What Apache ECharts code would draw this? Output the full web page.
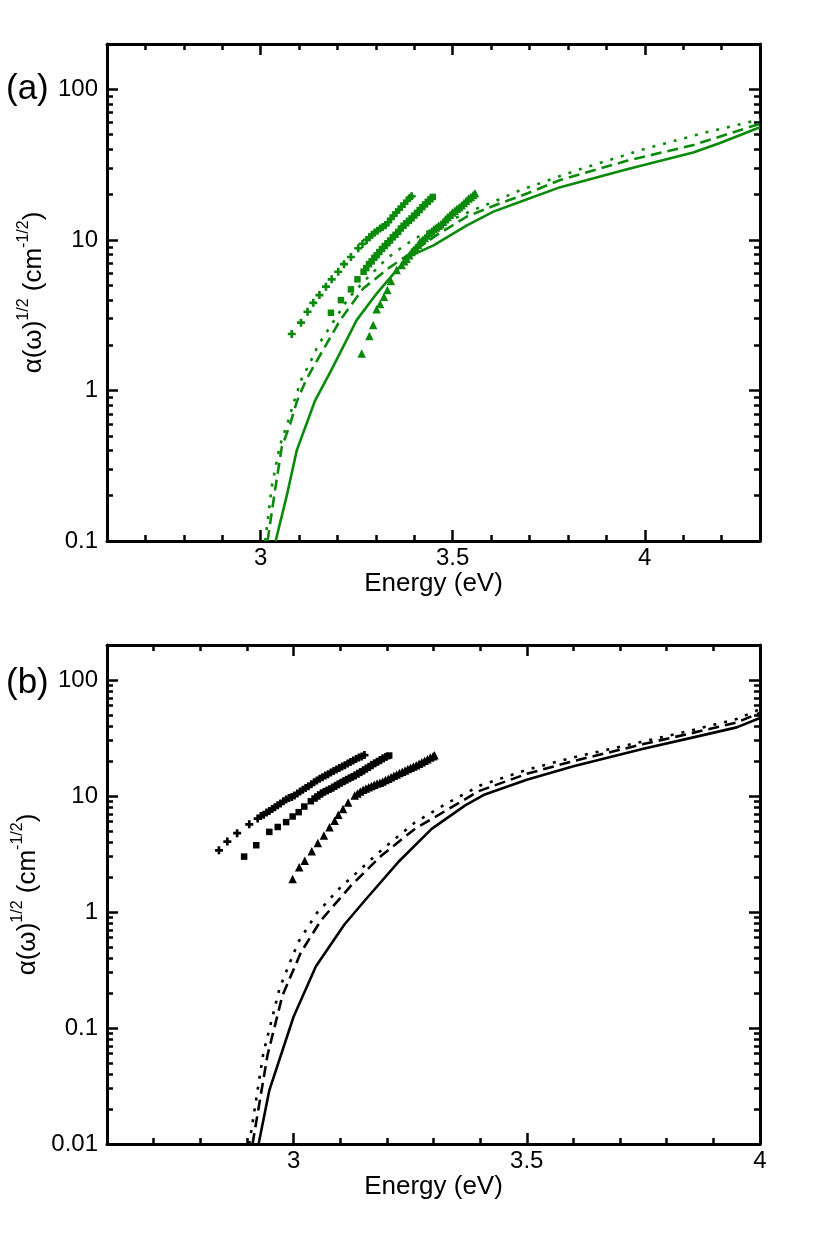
<!DOCTYPE html>
<html>
<head>
<meta charset="utf-8">
<script src="https://cdn.jsdelivr.net/npm/echarts@6.0.0/dist/echarts.min.js"></script>
<style>
html,body{margin:0;padding:0;background:#fff;}
#chart{width:830px;height:1244px;}
</style>
</head>
<body>
<div id="chart"></div>
<script>
// ---------- DATA ----------
const xTickLabels = [3, 3.5, 4];
const yTicksA = [0.1, 1, 10, 100];
const yTicksB = [0.01, 0.1, 1, 10, 100];

// Panel (a) theory curves [Energy eV, alpha^1/2]
const aSolid = [[3.039,0.1],[3.068,0.2],[3.094,0.40],[3.142,0.86],[3.185,1.38],[3.25,2.93],[3.302,4.4],[3.354,6.3],[3.393,7.9],[3.45,9.2],[3.537,12.5],[3.606,15.4],[3.676,17.9],[3.78,22.4],[3.954,29.5],[4.126,38],[4.196,44],[4.3,56]];
const aDashed = [[3.018,0.1],[3.0375,0.218],[3.055,0.42],[3.077,0.6],[3.094,0.84],[3.116,1.14],[3.137,1.43],[3.207,2.93],[3.267,4.76],[3.337,6.6],[3.389,8.1],[3.459,10.8],[3.537,14.3],[3.623,17.5],[3.676,19.5],[3.78,25.0],[3.953,33.5],[4.127,42.7],[4.3,59]];
const aDotted = [[3.012,0.1],[3.029,0.23],[3.05,0.43],[3.072,0.63],[3.088,0.86],[3.107,1.2],[3.127,1.5],[3.15,2.0],[3.181,2.65],[3.228,4.08],[3.268,5.27],[3.328,7.5],[3.376,9.25],[3.424,11.0],[3.485,13.2],[3.554,15.8],[3.606,17.9],[3.676,21.4],[3.823,29],[3.997,40],[4.162,52],[4.3,63]];

// Panel (a) experimental markers
const aPlus = [[3.081,2.37],[3.105,2.82],[3.122,3.33],[3.137,3.82],[3.153,4.3],[3.170,4.89],[3.185,5.47],[3.202,6.14],[3.217,6.9],[3.235,7.7],[3.254,8.8],[3.265,9.4],[3.276,10.0],[3.283,10.4],[3.290,10.8],[3.297,11.2],[3.304,11.5],[3.311,11.9],[3.318,12.2],[3.325,12.5],[3.332,13.1],[3.339,13.8],[3.346,14.5],[3.353,15.2],[3.360,15.9],[3.367,16.6],[3.374,17.4],[3.381,18.2],[3.388,19.0],[3.393,19.5]];
const aSquare = [[3.183,3.28],[3.209,3.98],[3.235,4.69],[3.252,5.47],[3.268,6.14],[3.275,6.5],[3.282,6.9],[3.289,7.2],[3.296,7.6],[3.302,7.9],[3.309,8.3],[3.316,8.7],[3.323,9.1],[3.330,9.5],[3.337,9.9],[3.344,10.4],[3.351,10.8],[3.358,11.3],[3.365,11.9],[3.372,12.4],[3.379,12.9],[3.386,13.4],[3.393,13.9],[3.400,14.5],[3.407,15.1],[3.414,15.8],[3.421,16.5],[3.428,17.2],[3.435,17.9],[3.442,18.6],[3.448,19.3]];
const aTri = [[3.263,1.76],[3.283,2.30],[3.293,2.72],[3.302,3.46],[3.311,3.75],[3.321,4.19],[3.330,4.64],[3.339,5.33],[3.354,6.3],[3.367,6.8],[3.374,7.2],[3.380,7.5],[3.387,7.9],[3.393,8.3],[3.398,8.55],[3.404,8.9],[3.410,9.3],[3.415,9.7],[3.421,10.0],[3.427,10.3],[3.433,10.7],[3.439,11.1],[3.445,11.4],[3.451,11.8],[3.457,12.1],[3.463,12.4],[3.469,12.7],[3.475,13.2],[3.481,13.7],[3.487,14.2],[3.493,14.7],[3.499,15.2],[3.505,15.6],[3.511,16.1],[3.517,16.5],[3.523,17.0],[3.529,17.6],[3.535,18.2],[3.541,18.8],[3.547,19.3],[3.553,19.9],[3.558,20.4]];

// Panel (b) theory curves
const bSolid = [[2.925,0.01],[2.948,0.029],[3.0,0.125],[3.048,0.34],[3.109,0.78],[3.156,1.3],[3.224,2.68],[3.296,5.2],[3.368,8.3],[3.41,10.3],[3.5,13.8],[3.6,18],[3.75,25.5],[3.85,31.5],[3.95,39],[4.0,47]];
const bDashed = [[2.912,0.01],[2.944,0.058],[2.976,0.19],[3.016,0.45],[3.059,0.85],[3.124,1.7],[3.188,3.05],[3.26,5.2],[3.332,7.7],[3.397,11.0],[3.5,15.5],[3.6,20],[3.75,28],[3.85,34.5],[3.95,43],[4.0,52]];
const bDotted = [[2.905,0.01],[2.935,0.06],[2.97,0.22],[3.01,0.55],[3.05,0.98],[3.10,1.62],[3.188,3.4],[3.26,5.9],[3.33,8.7],[3.40,12.3],[3.5,16.8],[3.6,21.5],[3.75,29.5],[3.85,36.5],[3.95,46],[4.0,56]];

// Panel (b) experimental markers
const bPlus = [[2.840,3.4],[2.858,4.04],[2.879,4.78],[2.905,5.69],[2.923,6.38],[2.930,6.7],[2.936,6.9],[2.942,7.2],[2.948,7.4],[2.954,7.7],[2.960,8.0],[2.966,8.3],[2.972,8.6],[2.978,9.0],[2.984,9.3],[2.990,9.6],[2.996,9.8],[3.002,10.1],[3.008,10.5],[3.014,10.9],[3.020,11.3],[3.026,11.7],[3.032,12.1],[3.038,12.6],[3.044,13.1],[3.050,13.6],[3.056,14.1],[3.062,14.5],[3.068,15.0],[3.074,15.4],[3.080,15.9],[3.086,16.4],[3.092,16.9],[3.098,17.4],[3.104,17.9],[3.110,18.4],[3.116,19.0],[3.122,19.6],[3.128,20.2],[3.134,20.8],[3.140,21.4],[3.146,21.9],[3.152,22.5]];
const bSquare = [[2.894,3.0],[2.920,3.76],[2.948,4.9],[2.966,5.4],[2.984,5.95],[2.998,6.65],[3.011,7.25],[3.023,8.1],[3.037,9.0],[3.045,9.5],[3.051,9.9],[3.057,10.3],[3.063,10.7],[3.069,11.0],[3.075,11.3],[3.081,11.6],[3.087,12.0],[3.093,12.4],[3.099,12.8],[3.105,13.2],[3.111,13.6],[3.117,14.0],[3.123,14.4],[3.129,14.8],[3.135,15.3],[3.141,15.8],[3.147,16.3],[3.153,16.9],[3.159,17.5],[3.165,18.1],[3.171,18.8],[3.177,19.4],[3.183,20.0],[3.189,20.7],[3.195,21.4],[3.201,22.0],[3.205,22.3]];
const bTri = [[2.998,1.92],[3.012,2.43],[3.024,2.77],[3.039,3.34],[3.052,3.93],[3.065,4.55],[3.077,5.37],[3.088,6.1],[3.096,6.9],[3.106,7.7],[3.117,8.8],[3.131,10.1],[3.137,10.5],[3.143,10.9],[3.149,11.3],[3.155,11.6],[3.161,11.9],[3.167,12.2],[3.173,12.5],[3.179,12.8],[3.185,13.0],[3.191,13.3],[3.197,13.7],[3.203,14.1],[3.209,14.5],[3.215,14.9],[3.221,15.3],[3.227,15.8],[3.233,16.2],[3.239,16.6],[3.245,17.1],[3.251,17.5],[3.257,17.9],[3.263,18.4],[3.269,18.9],[3.275,19.5],[3.281,20.1],[3.287,20.7],[3.293,21.4],[3.299,22.0],[3.302,22.4]];

// ---------- STYLE / BUILD ----------
const FONT = 'Liberation Sans, Arial, Helvetica, sans-serif';
const GREEN = '#0a8a0a';
const BLACK = '#000000';
const PLUS = 'path://M3,0L6,0L6,3L9,3L9,6L6,6L6,9L3,9L3,6L0,6L0,3L3,3Z';

function minorLog(lo, hi) {
  const out = [];
  for (let d = lo; d < hi; d *= 10) {
    for (let k = 2; k <= 9; k++) {
      const v = +(k * d).toPrecision(3);
      if (v <= hi + 1e-9) out.push(v);
    }
  }
  return out;
}
function fmt(v) { return String(+Number(v).toPrecision(4)); }

const grids = [
  {left:107, top:44, width:653, height:497},
  {left:107, top:44, width:653, height:497},
  {left:107, top:645, width:653, height:499},
  {left:107, top:645, width:653, height:499}
];

const lineW = 3;
function xMajor(grid, pos, max, labels) {
  return {
    type:'value', gridIndex:grid, position:pos, min:2.6, max:max,
    axisLine:{show:true, onZero:false, lineStyle:{color:'#000', width:lineW}},
    axisTick:{show:true, inside:true, length:11, customValues:xTickLabels, lineStyle:{color:'#000', width:2.5}},
    axisLabel:{show:labels, customValues:xTickLabels, margin:5, fontSize:24, fontFamily:FONT, color:'#000', formatter:fmt},
    splitLine:{show:false},
    name: labels ? 'Energy (eV)' : '', nameLocation:'middle', nameGap:29,
    nameTextStyle:{fontSize:26, fontFamily:FONT, color:'#000'}
  };
}
function xMinor(grid, pos, max) {
  return {
    type:'value', gridIndex:grid, position:pos, min:2.6, max:max, interval:0.1,
    axisLine:{show:false}, axisLabel:{show:false}, splitLine:{show:false},
    axisTick:{show:true, inside:true, length:6, lineStyle:{color:'#000', width:2.5}}
  };
}
const yNameRich = {
  b:{fontSize:26, fontFamily:FONT, color:'#000', lineHeight:36},
  s:{fontSize:16, fontFamily:FONT, color:'#000', verticalAlign:'top', lineHeight:36}
};
function yMajor(grid, pos, min, ticks, labels) {
  return {
    type:'log', logBase:10, gridIndex:grid, position:pos, min:min, max:200,
    axisLine:{show:true, onZero:false, lineStyle:{color:'#000', width:lineW}},
    axisTick:{show:true, inside:true, length:11, customValues:ticks, lineStyle:{color:'#000', width:2.5}},
    axisLabel:{show:labels, customValues:ticks, margin:9, fontSize:24, fontFamily:FONT, color:'#000', formatter:fmt},
    splitLine:{show:false}, minorTick:{show:false},
    name: labels ? '{b|\u03b1(\u03c9)}{s|1/2}{b| (cm}{s|-1/2}{b|)}' : '',
    nameLocation:'middle', nameRotate:90, nameGap:47,
    nameTextStyle:{rich:yNameRich, fontSize:26, fontFamily:FONT, color:'#000'}
  };
}
function yMinor(grid, pos, min) {
  return {
    type:'log', logBase:10, gridIndex:grid, position:pos, min:min, max:200,
    axisLine:{show:false}, axisLabel:{show:false}, splitLine:{show:false},
    axisTick:{show:true, inside:true, length:6, customValues:minorLog(min, 200), lineStyle:{color:'#000', width:2.5}}
  };
}

const xAxes = [
  xMajor(0,'bottom',4.3,true), xMajor(0,'top',4.3,false),
  xMinor(1,'bottom',4.3), xMinor(1,'top',4.3),
  xMajor(2,'bottom',4.0,true), xMajor(2,'top',4.0,false),
  xMinor(3,'bottom',4.0), xMinor(3,'top',4.0)
];
const yAxes = [
  yMajor(0,'left',0.1,yTicksA,true), yMajor(0,'right',0.1,yTicksA,false),
  yMinor(1,'left',0.1), yMinor(1,'right',0.1),
  yMajor(2,'left',0.01,yTicksB,true), yMajor(2,'right',0.01,yTicksB,false),
  yMinor(3,'left',0.01), yMinor(3,'right',0.01)
];

function lineSeries(data, dash, color, ax) {
  return {
    type:'line', data:data, xAxisIndex:ax, yAxisIndex:ax, symbol:'none', smooth:false,
    lineStyle:{color:color, width:2.6, type:dash, cap:'butt'}, z:3, silent:true, clip:true
  };
}
function markSeries(data, symbol, size, color, ax) {
  return {
    type:'scatter', data:data, xAxisIndex:ax, yAxisIndex:ax, symbol:symbol, symbolSize:size,
    itemStyle:{color:color, opacity:1}, z:4, silent:true
  };
}

const series = [
  lineSeries(aSolid, 'solid', GREEN, 0),
  lineSeries(aDashed, [11,6], GREEN, 0),
  lineSeries(aDotted, [3,8], GREEN, 0),
  markSeries(aPlus, PLUS, 8, GREEN, 0),
  markSeries(aSquare, 'rect', 6.5, GREEN, 0),
  markSeries(aTri, 'triangle', 8.5, GREEN, 0),
  lineSeries(bSolid, 'solid', BLACK, 4),
  lineSeries(bDashed, [11,6], BLACK, 4),
  lineSeries(bDotted, [3,8], BLACK, 4),
  markSeries(bPlus, PLUS, 8, BLACK, 4),
  markSeries(bSquare, 'rect', 6.5, BLACK, 4),
  markSeries(bTri, 'triangle', 8.5, BLACK, 4)
];

const chart = echarts.init(document.getElementById('chart'), null, {renderer:'canvas'});
chart.setOption({
  animation:false,
  backgroundColor:'#fff',
  grid:grids,
  xAxis:xAxes,
  yAxis:yAxes,
  series:series,
  graphic:[
    {type:'text', x:6, y:89, style:{text:'(a)', fontSize:35, fontFamily:FONT, fill:'#000', verticalAlign:'middle'}},
    {type:'text', x:6, y:683, style:{text:'(b)', fontSize:35, fontFamily:FONT, fill:'#000', verticalAlign:'middle'}}
  ]
});
</script>
</body>
</html>
